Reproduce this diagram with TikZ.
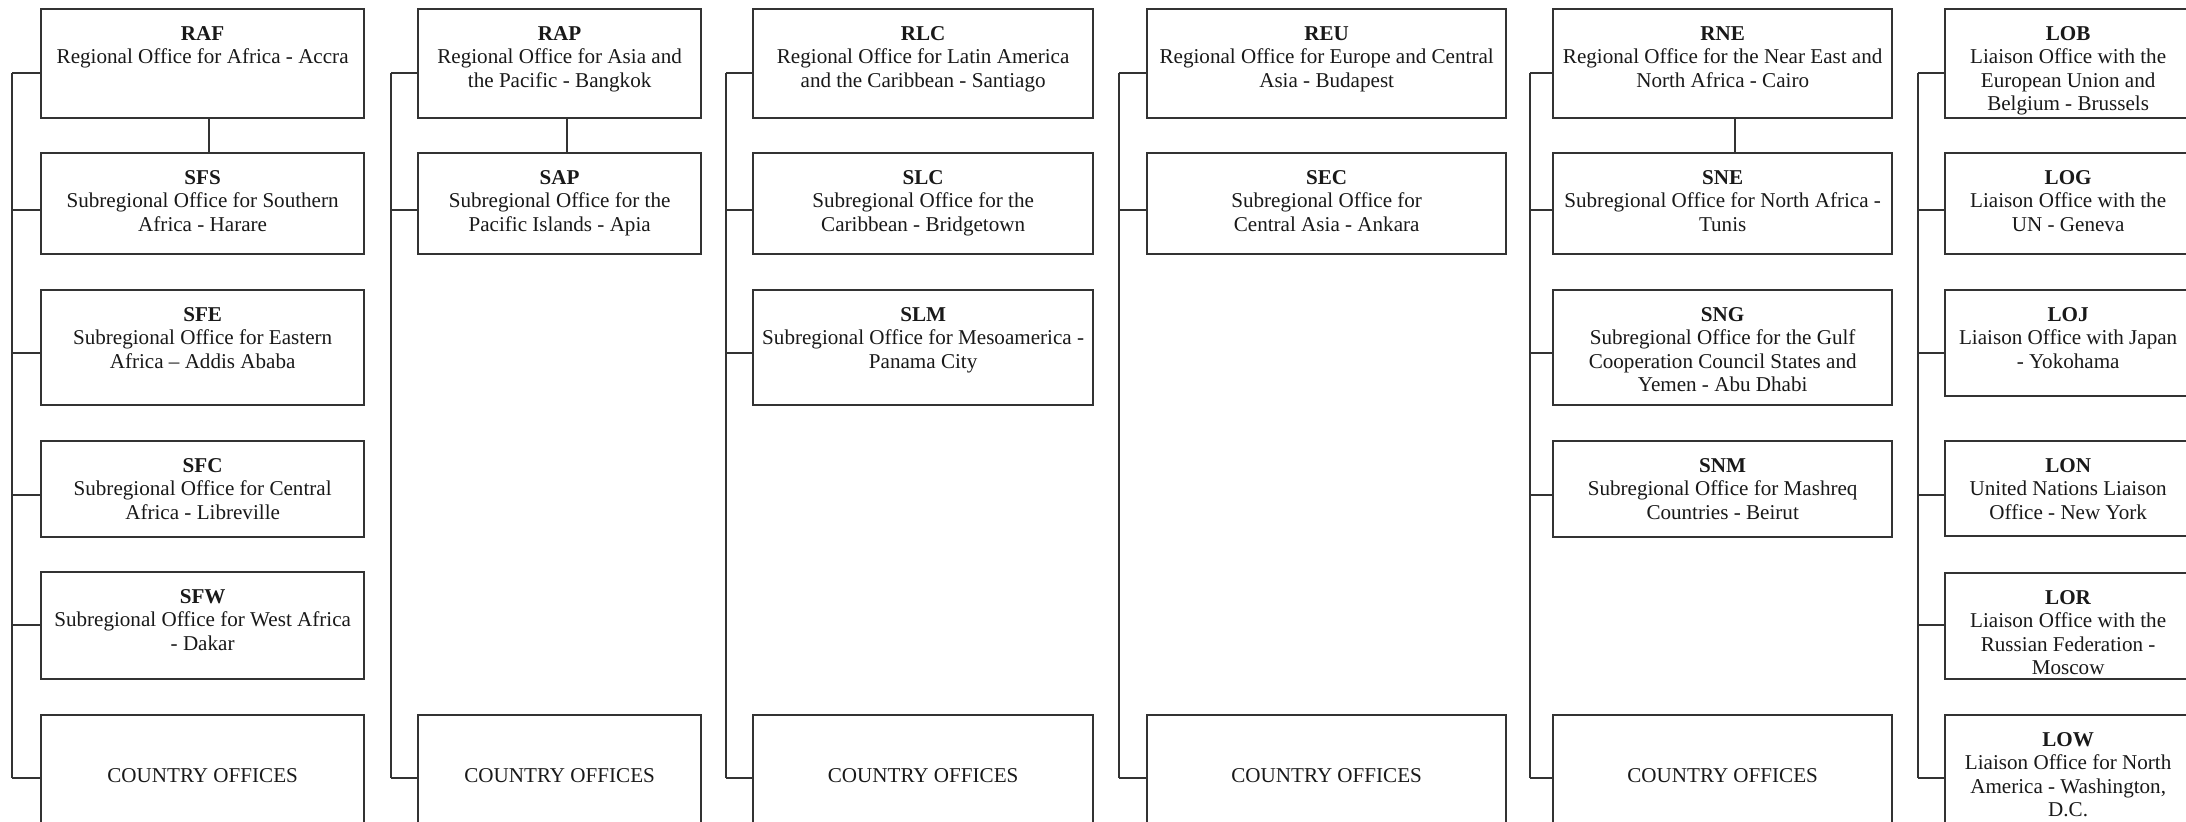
\documentclass[tikz,border=0pt]{standalone}
\usepackage{fontspec}
\setmainfont{Liberation Serif}
\usetikzlibrary{calc}
\newcommand\officetext[4]{\parbox[c][#2][t]{#1}{\centering\rule{0pt}{0.31cm}\textbf{#3}\\#4\par}}
\newcommand\countrytext[2]{\parbox[c][#2][c]{#1}{\centering COUNTRY OFFICES\par}}
\tikzset{
  office/.style={draw=black!80, line width=0.6pt, inner sep=0pt, anchor=north west,
    font=\fontsize{6}{6.7}\selectfont, text=black!90},
  link/.style={draw=black!80, line width=0.5pt}
}
\begin{document}
\begin{tikzpicture}[x=0.01cm,y=-0.01cm]
\useasboundingbox (0,0) rectangle (2186,821);
\clip (0,0) rectangle (2186,821);
\fill[white] (0,0) rectangle (2186,821);

% Column A
\node[office] (RAF) at (40,8) {\officetext{3.23cm}{1.09cm}{RAF}{Regional Office for Africa - Accra}};
\node[office] (SFS) at (40,152) {\officetext{3.23cm}{1.01cm}{SFS}{Subregional Office for Southern\\Africa - Harare}};
\node[office] (SFE) at (40,289) {\officetext{3.23cm}{1.15cm}{SFE}{Subregional Office for Eastern\\Africa – Addis Ababa}};
\node[office] (SFC) at (40,440) {\officetext{3.23cm}{0.96cm}{SFC}{Subregional Office for Central\\Africa - Libreville}};
\node[office] (SFW) at (40,571) {\officetext{3.23cm}{1.07cm}{SFW}{Subregional Office for West Africa\\- Dakar}};
\node[office] (COA) at (40,714) {\countrytext{3.23cm}{1.22cm}};

% Column B
\node[office] (RAP) at (417,8) {\officetext{2.83cm}{1.09cm}{RAP}{Regional Office for Asia and\\the Pacific - Bangkok}};
\node[office] (SAP) at (417,152) {\officetext{2.83cm}{1.01cm}{SAP}{Subregional Office for the\\Pacific Islands - Apia}};
\node[office] (COB) at (417,714) {\countrytext{2.83cm}{1.22cm}};

% Column C
\node[office] (RLC) at (752,8) {\officetext{3.40cm}{1.09cm}{RLC}{Regional Office for Latin America\\and the Caribbean - Santiago}};
\node[office] (SLC) at (752,152) {\officetext{3.40cm}{1.01cm}{SLC}{Subregional Office for the\\Caribbean - Bridgetown}};
\node[office] (SLM) at (752,289) {\officetext{3.40cm}{1.15cm}{SLM}{Subregional Office for Mesoamerica -\\Panama City}};
\node[office] (COC) at (752,714) {\countrytext{3.40cm}{1.22cm}};

% Column D
\node[office] (REU) at (1146,8) {\officetext{3.59cm}{1.09cm}{REU}{Regional Office for Europe and Central\\Asia - Budapest}};
\node[office] (SEC) at (1146,152) {\officetext{3.59cm}{1.01cm}{SEC}{Subregional Office for\\Central Asia - Ankara}};
\node[office] (COD) at (1146,714) {\countrytext{3.59cm}{1.22cm}};

% Column E
\node[office] (RNE) at (1552,8) {\officetext{3.39cm}{1.09cm}{RNE}{Regional Office for the Near East and\\North Africa - Cairo}};
\node[office] (SNE) at (1552,152) {\officetext{3.39cm}{1.01cm}{SNE}{Subregional Office for North Africa -\\Tunis}};
\node[office] (SNG) at (1552,289) {\officetext{3.39cm}{1.15cm}{SNG}{Subregional Office for the Gulf\\Cooperation Council States and\\Yemen - Abu Dhabi}};
\node[office] (SNM) at (1552,440) {\officetext{3.39cm}{0.96cm}{SNM}{Subregional Office for Mashreq\\Countries - Beirut}};
\node[office] (COE) at (1552,714) {\countrytext{3.39cm}{1.22cm}};

% Column F
\node[office] (LOB) at (1944,8) {\officetext{2.46cm}{1.09cm}{LOB}{Liaison Office with the\\European Union and\\Belgium - Brussels}};
\node[office] (LOG) at (1944,152) {\officetext{2.46cm}{1.01cm}{LOG}{Liaison Office with the\\UN - Geneva}};
\node[office] (LOJ) at (1944,289) {\officetext{2.46cm}{1.06cm}{LOJ}{Liaison Office with Japan\\- Yokohama}};
\node[office] (LON) at (1944,440) {\officetext{2.46cm}{0.95cm}{LON}{United Nations Liaison\\Office - New York}};
\node[office] (LOR) at (1944,572) {\officetext{2.46cm}{1.06cm}{LOR}{Liaison Office with the\\Russian Federation -\\Moscow}};
\node[office] (LOW) at (1944,714) {\officetext{2.46cm}{1.22cm}{LOW}{Liaison Office for North\\America - Washington,\\D.C.}};

% trunk coordinates
\foreach \c/\x in {A/12,B/391,C/726,D/1119,E/1530,F/1918}{
  \foreach \r/\y in {1/73,2/210,3/353,4/495,5/625,6/778}{
    \coordinate (\c\r) at (\x,\y);
  }
  \draw[link] (\c1) -- (\c6);
}

% horizontal connectors
\foreach \c/\r/\n in {A/1/RAF,A/2/SFS,A/3/SFE,A/4/SFC,A/5/SFW,A/6/COA,
                      B/1/RAP,B/2/SAP,B/6/COB,
                      C/1/RLC,C/2/SLC,C/3/SLM,C/6/COC,
                      D/1/REU,D/2/SEC,D/6/COD,
                      E/1/RNE,E/2/SNE,E/3/SNG,E/4/SNM,E/6/COE,
                      F/1/LOB,F/2/LOG,F/3/LOJ,F/4/LON,F/5/LOR,F/6/LOW}{
  \draw[link] (\c\r) -- (\c\r -| \n.west);
}

% vertical connectors regional -> subregional
\draw[link] ($(RAF.south)+(6,0)$) -- ($(SFS.north)+(6,0)$);
\draw[link] ($(RAP.south)+(7,0)$) -- ($(SAP.north)+(7,0)$);
\draw[link] ($(RNE.south)+(12,0)$) -- ($(SNE.north)+(12,0)$);
\end{tikzpicture}
\end{document}
